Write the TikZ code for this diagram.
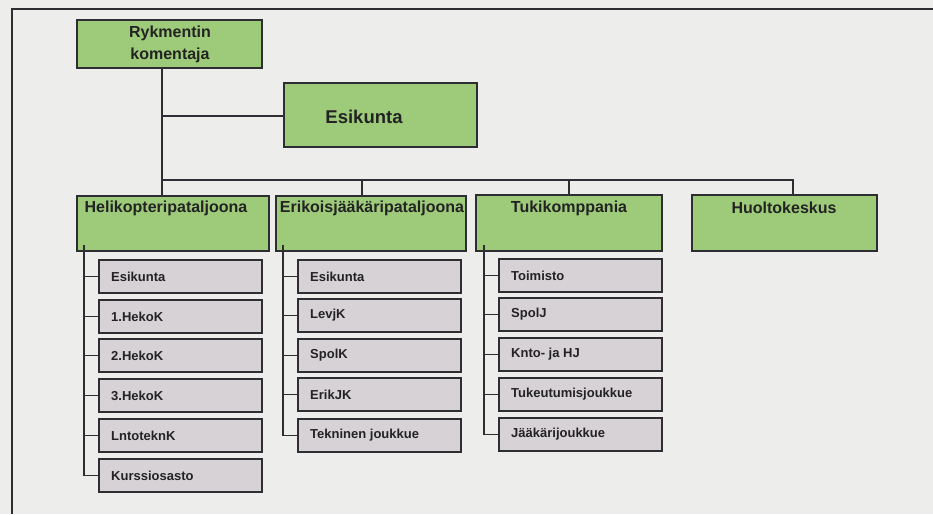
\documentclass[tikz,border=0pt]{standalone}
\usepackage{fontspec}
\setmainfont{Liberation Sans}
\definecolor{bgc}{RGB}{237,237,235}
\definecolor{grn}{RGB}{158,203,122}
\definecolor{gry}{RGB}{214,210,214}
\definecolor{lin}{RGB}{45,45,50}
\definecolor{txt}{RGB}{35,35,35}
\begin{document}
\begin{tikzpicture}[x=1pt,y=-1pt,
  greenbox/.style={draw=lin,line width=1.3pt,fill=grn,inner sep=0pt},
  graybox/.style={draw=lin,line width=1.3pt,fill=gry,inner sep=0pt},
  lbl/.style={text=txt,font=\bfseries\fontsize{16}{22}\selectfont,inner sep=0pt,align=center},
  sublbl/.style={text=txt,font=\bfseries\fontsize{13}{15}\selectfont,inner sep=0pt,anchor=west},
  conn/.style={draw=lin,line width=1.3pt}]
\useasboundingbox (0,0) rectangle (933,514);
\fill[bgc] (0,0) rectangle (933,514);
\draw[lin,line width=1.6pt] (12,514) -- (12,9) -- (933,9);
% top level
\draw[greenbox] (77,20) rectangle (262,68);
\node[lbl] (ryk) at (170,44) {Rykmentin\\komentaja};
\coordinate (rykb) at (162,68);
\draw[greenbox] (284,83) rectangle (477,147);
\node[lbl,font=\bfseries\fontsize{18.5}{22}\selectfont] (esi) at (364,117) {Esikunta};
\coordinate (esil) at (284,116);
\coordinate (j1) at (162,116);
\coordinate (bus) at (162,180);
% level 2 boxes
\draw[greenbox] (77,196) rectangle (269,251);
\draw[greenbox] (276,196) rectangle (466,251);
\draw[greenbox] (476,195) rectangle (662,251);
\draw[greenbox] (692,195) rectangle (877,251);
\node[lbl] (heli) at (166,208) {Helikopteripataljoona};
\node[lbl] (erik) at (372,208) {Erikoisjääkäripataljoona};
\node[lbl] (tuki) at (569,208) {Tukikomppania};
\node[lbl] (huol) at (784,208) {Huoltokeskus};
\coordinate (helit) at (162,196);
\coordinate (erikt) at (362,196);
\coordinate (tukit) at (569,195);
\coordinate (huolt) at (793,195);
\coordinate (b2) at (362,180);
\coordinate (b3) at (569,180);
\coordinate (b4) at (793,180);
\draw[conn] (rykb) -- (j1) -- (bus) -- (helit);
\draw[conn] (j1) -- (esil);
\draw[conn] (bus) -- (b4) -- (huolt);
\draw[conn] (b2) -- (erikt);
\draw[conn] (b3) -- (tukit);
% Heli column
\foreach \t/\txt [count=\i] in {260/Esikunta,300/1.HekoK,339/2.HekoK,379/3.HekoK,419/LntoteknK,459/Kurssiosasto}{
  \draw[graybox] (99,\t) rectangle (262,\t+33);
  \node[sublbl] (h\i) at (111,\t+16.5) {\txt};
  \coordinate (hc\i) at (99,\t+16.5);
  \coordinate (ht\i) at (84,\t+16.5);
  \draw[conn] (ht\i) -- (hc\i);
}
\coordinate (htop) at (84,245);
\draw[conn] (htop) -- (ht6);
% Erikois column
\foreach \t [count=\i] in {260,299,339,378,419}{
  \draw[graybox] (298,\t) rectangle (461,\t+33);
  \coordinate (ec\i) at (298,\t+16.5);
  \coordinate (et\i) at (283,\t+16.5);
  \draw[conn] (et\i) -- (ec\i);
}
\node[sublbl] (e1) at (310,276.5) {Esikunta};
\node[sublbl] (e2) at (310,315.5) {LevjK};
\node[sublbl] (e3) at (310,355.5) {SpolK};
\node[sublbl] (e4) at (310,394.5) {ErikJK};
\node[sublbl] (e5) at (310,435.5) {Tekninen joukkue};
\coordinate (etop) at (283,245);
\draw[conn] (etop) -- (et5);
% Tuki column
\foreach \t/\txt [count=\i] in {259/Toimisto,298/SpolJ,338/Knto- ja HJ,378/Tukeutumisjoukkue,418/Jääkärijoukkue}{
  \draw[graybox] (499,\t) rectangle (662,\t+33);
  \node[sublbl] (t\i) at (511,\t+16.5) {\txt};
  \coordinate (tc\i) at (499,\t+16.5);
  \coordinate (tt\i) at (484,\t+16.5);
  \draw[conn] (tt\i) -- (tc\i);
}
\coordinate (ttop) at (484,245);
\draw[conn] (ttop) -- (tt5);
\end{tikzpicture}
\end{document}
